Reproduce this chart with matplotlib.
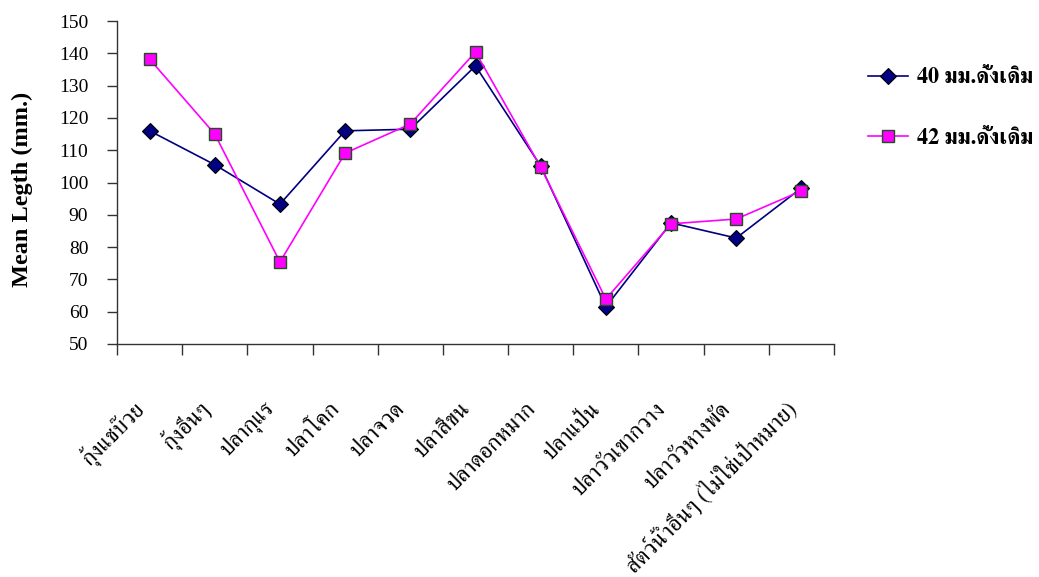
import matplotlib
matplotlib.use("Agg")
import matplotlib.pyplot as plt
from matplotlib import font_manager
from matplotlib.ft2font import FT2Font

categories = [
    "กุ้งแชบ๊วย", "กุ้งอื่นๆ", "ปลากุแร", "ปลาโคก", "ปลาจวด", "ปลาสีขน",
    "ปลาดอกหมาก", "ปลาแป้น", "ปลาวัวเขากวาง", "ปลาวัวหางพัด",
    "สัตว์น้ำอื่นๆ (ไม่ใช่เป้าหมาย)",
]
series_40 = [116.0, 105.5, 93.3, 116.0, 116.5, 136.1, 105.1, 61.5, 87.5, 82.8, 98.3]
series_42 = [138.2, 115.0, 75.4, 109.1, 118.1, 140.4, 104.8, 63.9, 87.2, 88.7, 97.4]
series_names = ["40 มม.ดั้งเดิม", "42 มม.ดั้งเดิม"]
y_ticks = list(range(50, 151, 10))


def thai_families():
    """Installed families that carry Thai glyphs, serif first."""
    found = []
    for path in font_manager.findSystemFonts():
        try:
            ft = FT2Font(path)
            if 0x0E01 in ft.get_charmap():
                name = font_manager.FontProperties(fname=path).get_name()
                if name not in found:
                    found.append(name)
        except Exception:
            continue
    found.sort(key=lambda n: (0 if "Serif" in n else 1, n))
    return found


thai = thai_families()
serif = ["Liberation Serif", "DejaVu Serif"]
label_fam = thai + serif if thai else serif

W, H = 1039, 577
fig = plt.figure(figsize=(W / 100, H / 100), dpi=100)
ax = fig.add_axes([117 / W, 1 - 344 / H, (834 - 117) / W, (344 - 21) / H])

x = list(range(len(categories)))
ax.plot(x, series_40, color="#000080", lw=1.2, marker="D", ms=8,
        mfc="#000080", mec="black", mew=0.8, label=series_names[0], zorder=3)
ax.plot(x, series_42, color="#FF00FF", lw=1.2, marker="s", ms=8.5,
        mfc="#FF00FF", mec="#1f4f1f", mew=1.0, label=series_names[1], zorder=4)

ax.set_xlim(-0.5, len(categories) - 0.5)
ax.set_ylim(50, 150)
ax.set_yticks(y_ticks)
ax.set_yticklabels([str(v) for v in y_ticks], family=serif, fontsize=14)
ax.tick_params(axis="y", direction="out", length=7.2, width=1, pad=13.5,
               color="#333333")

ax.set_xticks([i - 0.5 for i in range(len(categories) + 1)])
ax.set_xticklabels([])
ax.tick_params(axis="x", direction="out", length=8, width=1, color="#333333")
for i, name in enumerate(categories):
    ax.annotate(name, xy=(i, 50), xycoords="data", xytext=(-6, -44),
                textcoords="offset points", rotation=45,
                rotation_mode="anchor", ha="right", va="center",
                fontsize=16.5, family=label_fam)

for side in ("top", "right"):
    ax.spines[side].set_visible(False)
for side in ("left", "bottom"):
    ax.spines[side].set_color("#333333")
    ax.spines[side].set_linewidth(1.0)

fig.text(22 / W, 1 - 189 / H, "Mean Legth (mm.)", family=serif,
         fontsize=17.5, fontweight="bold", rotation=90,
         ha="center", va="center")

fig.legend(loc="upper left", bbox_to_anchor=(0.816, 0.9177),
           frameon=False, handlelength=1.8, handletextpad=0.4,
           labelspacing=1.78,
           prop={"family": label_fam, "size": 16, "weight": "bold"})

fig.savefig("out.png", dpi=100)
